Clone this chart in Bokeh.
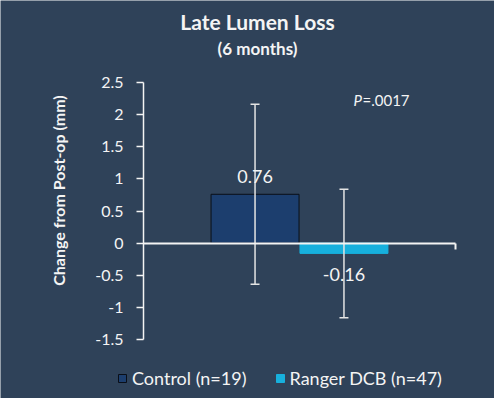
import math
from bokeh.plotting import figure
from bokeh.models import (Range1d, FixedTicker, CustomJSTickFormatter,
                          LinearAxis, Label, Legend, LegendItem, ColumnDataSource)
from bokeh.transform import dodge
from bokeh.core.properties import value
from bokeh.embed import file_html
from bokeh.resources import INLINE

# ---- data ----
group = ["Late Lumen Loss"]
subtitle = "(6 months)"
y_title = "Change from Post-op (mm)"
series = ["Control (n=19)", "Ranger DCB (n=47)"]
means = [0.76, -0.16]
sd = [1.40, 1.00]
colors = ["#1c3e6e", "#17b0dd"]
outlines = ["#0a0f18", "#17b0dd"]
y_ticks = [-1.5, -1, -0.5, 0, 0.5, 1, 1.5, 2, 2.5]
p_text = "=.0017"

# ---- layout (pixels) ----
W, H = 494, 398
PL, PR, PT, PB = 143, 455, 82, 339      # plot area edges
Y0, Y1 = y_ticks[0], y_ticks[-1]
ppu_y = (PB - PT) / (Y1 - Y0)
ppu_x = (PR - PL) / len(group)
gx = list(range(len(group)))
x_lo, x_hi = gx[0] - 0.5, gx[-1] + 0.5

BG = "#2f4259"
FG = "#f4f4f4"
FONT = "Lato"

p = figure(width=W, height=H,
           x_range=Range1d(x_lo - PL / ppu_x, x_hi + (W - PR) / ppu_x),
           y_range=Range1d(Y0 - (H - PB) / ppu_y, Y1 + PT / ppu_y),
           output_backend="svg", toolbar_location=None,
           background_fill_color=BG, border_fill_color=BG,
           min_border=0, outline_line_color=None)
p.grid.visible = False
p.xaxis.visible = False

# y axis
ya = p.yaxis[0]
ya.fixed_location = x_lo
ya.bounds = (Y0, Y1)
ya.ticker = FixedTicker(ticks=y_ticks)
ya.formatter = CustomJSTickFormatter(code="return String(tick);")
ya.axis_line_color = FG
ya.axis_line_width = 1.5
ya.major_tick_line_color = FG
ya.major_tick_line_width = 1.5
ya.major_tick_out = 7
ya.major_tick_in = 0
ya.minor_tick_line_color = None
ya.major_label_text_color = FG
ya.major_label_text_font = FONT
ya.major_label_text_font_size = "16px"
ya.major_label_standoff = 13

width = 0.282
items = []
srcs = []
for i in range(len(series)):
    v = means[i]
    src = ColumnDataSource(dict(g=gx, v=[v], lo=[v - sd[i]], hi=[v + sd[i]],
                                lab=[f"{v:.2f}"], yo=[-18 if v >= 0 else 21]))
    srcs.append(src)
    off = (i - 0.5) * 0.285
    r = p.vbar(x=dodge("g", off), top="v", bottom=0, width=width,
               source=src, fill_color=colors[i], line_color=outlines[i], line_width=1)
    items.append(LegendItem(label=series[i], renderers=[r]))

# zero axis line (category axis)
xa = LinearAxis(fixed_location=0, bounds=(x_lo, x_hi), ticker=FixedTicker(ticks=[x_hi]),
                axis_line_color=FG, axis_line_width=2,
                major_tick_line_color=FG, major_tick_line_width=2,
                major_tick_in=0, major_tick_out=6, minor_tick_line_color=None,
                major_label_text_font_size="0px", major_label_text_alpha=0)
p.add_layout(xa, "below")

for i in range(len(series)):
    off = (i - 0.5) * 0.285
    src = srcs[i]
    xs = dodge("g", off)
    p.segment(x0=xs, y0="lo", x1=xs, y1="hi", source=src,
              line_color="#e4e4e4", line_width=1.5)
    p.scatter(x=xs, y="hi", source=src, marker="dash", size=9,
              line_color="#e4e4e4", line_width=1.5)
    p.scatter(x=xs, y="lo", source=src, marker="dash", size=9,
              line_color="#e4e4e4", line_width=1.5)
    p.text(x=xs, y="v", text="lab", source=src, y_offset="yo",
           text_align="center", text_baseline="middle",
           text_color=FG, text_font=value(FONT), text_font_size="18px")

# titles
p.add_layout(Label(x=257, y=H - 21, x_units="screen", y_units="screen",
                   text=group[0], text_align="center", text_baseline="middle",
                   text_color=FG, text_font=FONT, text_font_style="bold",
                   text_font_size="21px"))
p.add_layout(Label(x=257, y=H - 48, x_units="screen", y_units="screen",
                   text=subtitle, text_align="center", text_baseline="middle",
                   text_color=FG, text_font=FONT, text_font_style="bold",
                   text_font_size="17px"))
p.add_layout(Label(x=58, y=H - 190, x_units="screen", y_units="screen",
                   text=y_title, angle=math.pi / 2,
                   text_align="center", text_baseline="middle",
                   text_color=FG, text_font=FONT, text_font_style="bold",
                   text_font_size="16px"))
p.add_layout(Label(x=353, y=H - 99, x_units="screen", y_units="screen",
                   text="P", text_align="left", text_baseline="middle",
                   text_color=FG, text_font=FONT, text_font_style="italic",
                   text_font_size="15px"))
p.add_layout(Label(x=362, y=H - 99, x_units="screen", y_units="screen",
                   text=p_text, text_align="left", text_baseline="middle",
                   text_color=FG, text_font=FONT, text_font_size="15px"))

legend = Legend(items=items, orientation="horizontal", location=(117, 9),
                glyph_width=10, glyph_height=10, label_standoff=5, spacing=28,
                padding=0, margin=0, background_fill_alpha=0, border_line_color=None,
                label_text_color=FG, label_text_font=FONT, label_text_font_size="18px",
                label_height=16)
p.add_layout(legend)

open("out.html", "w").write(file_html(p, INLINE))
